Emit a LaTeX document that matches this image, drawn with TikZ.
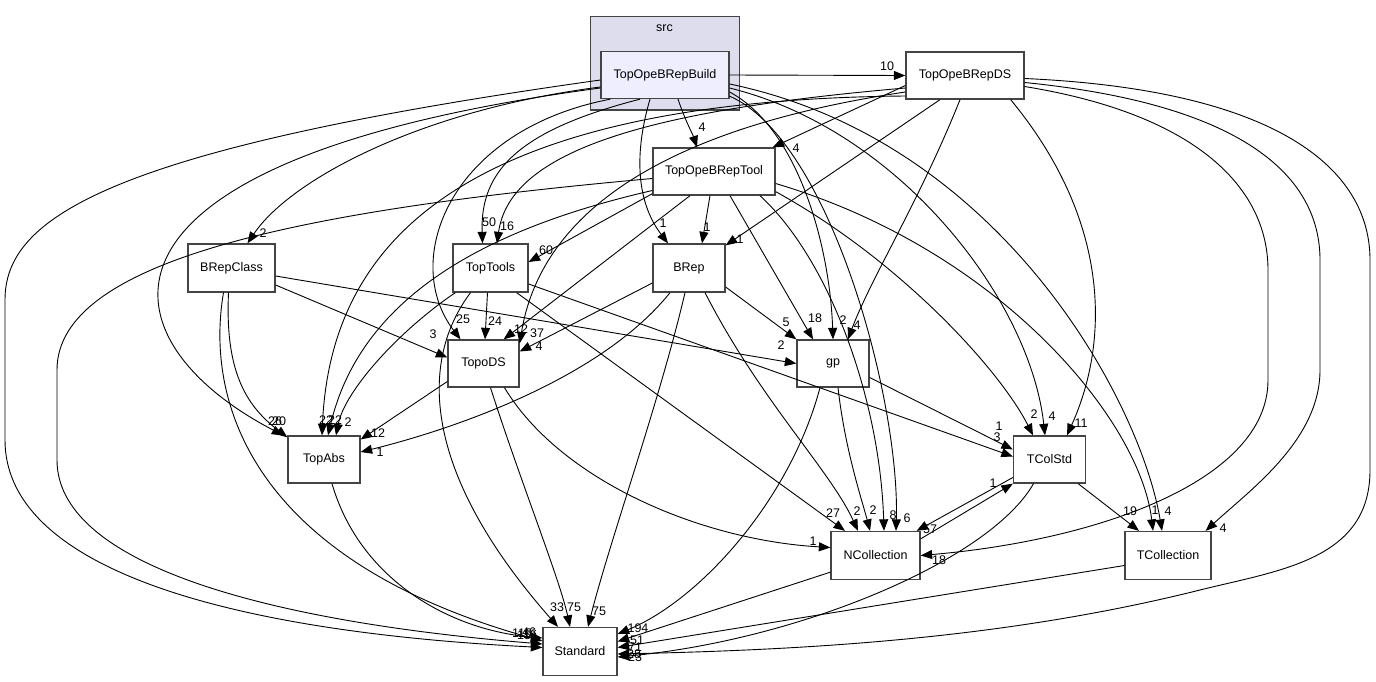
\documentclass[tikz,border=0pt]{standalone}
\usepackage{fontspec}
\setmainfont{Liberation Sans}
\usetikzlibrary{arrows.meta,calc}
\definecolor{clusterfill}{HTML}{DDDDEE}
\definecolor{buildfill}{HTML}{EEEEFF}
\definecolor{boxline}{HTML}{444444}

\begin{document}
\begin{tikzpicture}[x=1pt, y=-1pt,
dir node/.style={draw=boxline, line width=1.3pt, fill=white, inner sep=0pt, minimum height=47pt, font=\fontsize{12.5}{14}\selectfont},
dep/.style={-{Triangle[length=11.5pt,width=9pt]}, line width=0.9pt, black},
lbl/.style={inner sep=0pt, font=\fontsize{12.5}{14}\selectfont}]

\useasboundingbox (0,0) rectangle (1376,681);
\draw[boxline, line width=1.3pt, fill=clusterfill] (590.5,16.5) rectangle (739.5,110);
\node[lbl] (srclabel) at (664.5,28) {src};

\node[dir node, fill=buildfill, minimum width=128pt] (build) at (665,75) {TopOpeBRepBuild};
\node[dir node, minimum width=118pt] (ds) at (965,75.5) {TopOpeBRepDS};
\node[dir node, minimum width=122pt] (tool) at (714,171.5) {TopOpeBRepTool};
\node[dir node, minimum width=87pt, minimum height=48pt] (brepclass) at (231.5,268) {BRepClass};
\node[dir node, minimum width=75pt, minimum height=48pt] (toptools) at (490.5,268) {TopTools};
\node[dir node, minimum width=72pt, minimum height=48pt] (brep) at (689,268) {BRep};
\node[dir node, minimum width=71pt] (topods) at (483.5,363.5) {TopoDS};
\node[dir node, minimum width=72pt] (gp) at (833,363.5) {gp};
\node[dir node, minimum width=72pt] (topabs) at (324,459.5) {TopAbs};
\node[dir node, minimum width=72pt] (tcolstd) at (1049.5,459.5) {TColStd};
\node[dir node, minimum width=89pt, minimum height=48pt] (ncoll) at (875.5,555.5) {NCollection};
\node[dir node, minimum width=86pt, minimum height=48pt] (tcoll) at (1168,555.5) {TCollection};
\node[dir node, minimum width=74pt, minimum height=48pt] (standard) at (580,651.5) {Standard};

\draw[dep] (build.east) -- (ds.west) node[lbl] at (887,66) {10};
\draw[dep] ($(build.south)+(13,0)$) .. controls (685,120) and (693,135) .. ($(tool.north)+(-17,0)$) node[lbl] at (702,127) {4};
\draw[dep] ($(build.west)+(0,12)$) .. controls (420,110) and (290,180) .. ($(brepclass.north)+(16,0)$) node[lbl] at (263,233) {2};
\draw[dep] ($(build.south)+(-25,0)$) .. controls (520,130) and (480,170) .. ($(toptools.north)+(-8,0)$) node[lbl] at (489,222) {50};
\draw[dep] ($(build.south)+(-15,0)$) .. controls (635,150) and (635,200) .. ($(brep.north)+(-21,0)$) node[lbl] at (663,223) {1};
\draw[dep] ($(build.south west)+(10,0)$) .. controls (450,130) and (400,260) .. ($(topods.north)+(-23,0)$) node[lbl] at (463,319) {25};
\draw[dep] ($(build.east)+(0,17)$) .. controls (800,130) and (830,250) .. (gp.north) node[lbl] at (843,320) {2};
\draw[dep] ($(build.west)+(0,13)$) .. controls (60,160) and (100,340) .. ($(topabs.north west)+(-4,0)$) node[lbl] at (275,421) {26};
\draw[dep] ($(build.east)+(0,13)$) .. controls (900,130) and (1030,300) .. ($(tcolstd.north)+(-4.5,0)$) node[lbl] at (1052,416) {4};
\draw[dep] ($(build.south east)+(0,-3)$) .. controls (830,140) and (900,400) .. ($(ncoll.north)+(20.5,0)$) node[lbl] at (907,518) {6};
\draw[dep] ($(build.east)+(0,9)$) .. controls (1000,140) and (1140,400) .. ($(tcoll.north)+(-6,0)$) node[lbl] at (1168,511) {4};
\draw[dep] ($(build.west)+(0,5)$) .. controls (100,150) and (5,220) .. (5,300) -- (5,440) .. controls (5,560) and (200,630) .. ($(standard.west)+(0,-4)$) node[lbl] at (522,633) {116};

\draw[dep] ($(ds.west)+(0,10)$) -- ($(tool.north east)+(-3,0)$) node[lbl] at (796,148) {4};
\draw[dep] ($(ds.west)+(0,12.5)$) .. controls (650,110) and (510,150) .. ($(toptools.north)+(6.5,0)$) node[lbl] at (507,226) {16};
\draw[dep] ($(ds.west)+(0,16.5)$) .. controls (650,130) and (540,220) .. ($(topods.north east)+(0,4)$) node[lbl] at (537,333) {37};
\draw[dep] ($(ds.west)+(0,20.5)$) .. controls (450,100) and (330,250) .. ($(topabs.north)+(-2,0)$) node[lbl] at (326,420) {22};
\draw[dep] ($(ds.south)+(-25,0)$) -- ($(brep.north east)+(0,2)$) node[lbl] at (740,239) {1};
\draw[dep] ($(ds.south)+(-5,0)$) .. controls (920,200) and (870,280) .. ($(gp.north)+(15,0)$) node[lbl] at (857,325) {4};
\draw[dep] ($(ds.south east)+(-14,0)$) .. controls (1110,220) and (1110,340) .. ($(tcolstd.north)+(17.5,0)$) node[lbl] at (1081,423) {11};
\draw[dep] ($(ds.east)+(0,11)$) .. controls (1200,115) and (1268,190) .. (1268,270) -- (1268,380) .. controls (1268,480) and (1100,540) .. (ncoll.east) node[lbl] at (939,560) {18};
\draw[dep] ($(ds.east)+(0,7)$) .. controls (1250,105) and (1320,180) .. (1320,260) -- (1320,370) .. controls (1320,440) and (1250,490) .. ($(tcoll.north east)+(-6,0)$) node[lbl] at (1223,528) {4};
\draw[dep] ($(ds.east)+(0,3)$) .. controls (1280,90) and (1370,170) .. (1370,260) -- (1370,470) .. controls (1370,560) and (1280,570) .. (1200,590) .. controls (1000,640) and (800,650) .. ($(standard.east)+(0,2.5)$) node[lbl] at (635,657) {23};

\draw[dep] ($(tool.south west)+(0,-2)$) -- ($(toptools.east)+(0,-6)$) node[lbl] at (546,250) {60};
\draw[dep] ($(tool.south)+(-4,0)$) -- ($(brep.north)+(13,0)$) node[lbl] at (707,227) {1};
\draw[dep] ($(tool.south)+(-24,0)$) -- ($(topods.north east)+(-16,0)$) node[lbl] at (521,329) {12};
\draw[dep] ($(tool.south)+(16,0)$) -- ($(gp.north)+(-20,0)$) node[lbl] at (815,318) {18};
\draw[dep] ($(tool.west)+(0,19)$) .. controls (480,230) and (360,300) .. ($(topabs.north)+(4,0)$) node[lbl] at (335,420) {22};
\draw[dep] ($(tool.south)+(46,0)$) .. controls (830,260) and (880,400) .. ($(ncoll.north)+(8.5,0)$) node[lbl] at (893,515) {8};
\draw[dep] ($(tool.south east)+(0,-4)$) .. controls (900,260) and (1000,370) .. ($(tcolstd.north)+(-16.5,0)$) node[lbl] at (1034,414) {2};
\draw[dep] ($(tool.east)+(0,12)$) .. controls (1000,250) and (1140,420) .. ($(tcoll.north)+(-15,0)$) node[lbl] at (1155,510) {1};
\draw[dep] ($(tool.west)+(0,7)$) .. controls (300,210) and (57,260) .. (57,370) -- (57,460) .. controls (57,560) and (250,620) .. ($(standard.west)+(0,-7.5)$) node[lbl] at (529,632) {46};

\draw[dep] ($(brepclass.east)+(0,17)$) -- ($(topods.west)+(0,-6)$) node[lbl] at (433,334) {3};
\draw[dep] ($(brepclass.east)+(0,8)$) -- (gp.west) node[lbl] at (781,345) {2};
\draw[dep] ($(brepclass.south)+(-3,0)$) .. controls (225,370) and (245,405) .. ($(topabs.north west)+(0,2)$) node[lbl] at (279,421) {20};
\draw[dep] ($(brepclass.south)+(-8,0)$) .. controls (205,400) and (250,560) .. ($(standard.west)+(0,-10.5)$) node[lbl] at (524,635) {15};

\draw[dep] ($(toptools.south)+(-3,0)$) -- ($(topods.north)+(1.5,0)$) node[lbl] at (495,321) {24};
\draw[dep] ($(toptools.south west)+(3,0)$) .. controls (400,330) and (345,390) .. ($(topabs.north)+(12,0)$) node[lbl] at (348,422) {2};
\draw[dep] ($(toptools.south east)+(-12,0)$) -- ($(ncoll.north)+(-30.5,0)$) node[lbl] at (833,513) {27};
\draw[dep] ($(toptools.east)+(0,16)$) -- ($(tcolstd.west)+(0,-3)$) node[lbl] at (997,437) {3};
\draw[dep] ($(toptools.south)+(-20,0)$) .. controls (420,360) and (420,470) .. ($(standard.north)+(-22,0)$) node[lbl] at (557,607) {33};

\draw[dep] ($(brep.west)+(0,15)$) -- ($(topods.east)+(0,-12)$) node[lbl] at (539,346) {4};
\draw[dep] ($(brep.east)+(0,19)$) -- (gp.north west) node[lbl] at (786,322) {5};
\draw[dep] ($(brep.south)+(-19,0)$) .. controls (600,380) and (450,430) .. ($(topabs.east)+(0,-7.5)$) node[lbl] at (380,452) {1};
\draw[dep] ($(brep.south)+(16,0)$) .. controls (760,400) and (830,470) .. ($(ncoll.north)+(-17.5,0)$) node[lbl] at (857,511) {2};
\draw[dep] ($(brep.south)+(-4,0)$) .. controls (660,400) and (610,540) .. ($(standard.north)+(8,0)$) node[lbl] at (599,611) {75};

\draw[dep] ($(topods.west)+(0,18)$) -- ($(topabs.east)+(0,-20)$) node[lbl] at (378,433) {12};
\draw[dep] ($(topods.south)+(21,0)$) .. controls (560,480) and (700,540) .. ($(ncoll.west)+(0,-8)$) node[lbl] at (813,541) {1};
\draw[dep] ($(topods.south)+(7,0)$) .. controls (520,480) and (560,580) .. ($(standard.north)+(-10,0)$) node[lbl] at (574,607) {75};

\draw[dep] ($(gp.east)+(0,14)$) -- ($(tcolstd.west)+(0,-10)$) node[lbl] at (999,426) {1};
\draw[dep] ($(gp.south)+(5,0)$) .. controls (845,450) and (862,500) .. ($(ncoll.north)+(-5.5,0)$) node[lbl] at (873,510) {2};
\draw[dep] ($(gp.south)+(-13,0)$) .. controls (790,500) and (700,600) .. ($(standard.east)+(0,-17.5)$) node[lbl] at (638,628) {194};

\draw[dep] ($(topabs.south)+(8,0)$) .. controls (360,580) and (450,630) .. ($(standard.west)+(0,-13.5)$) node[lbl] at (530,634) {16};

\draw[dep] ($(tcolstd.west)+(0,18)$) -- ($(ncoll.north east)+(-4,0)$) node[lbl] at (930,529) {57};
\draw[dep] ($(tcolstd.south east)+(-8,0)$) -- ($(tcoll.north)+(-29,0)$) node[lbl] at (1130,511) {19};
\draw[dep] ($(tcolstd.south)+(-16,0)$) .. controls (990,560) and (800,640) .. ($(standard.east)+(0,5.5)$) node[lbl] at (634,654) {28};

\draw[dep] ($(ncoll.north east)+(0,8)$) -- (tcolstd.south west) node[lbl] at (993,483) {1};
\draw[dep] ($(ncoll.south west)+(0,-8)$) -- ($(standard.east)+(0,-10)$) node[lbl] at (637,640) {51};

\draw[dep] ($(tcoll.west)+(0,10)$) -- ($(standard.east)+(0,-4)$) node[lbl] at (635,647) {71};
\end{tikzpicture}
\end{document}
